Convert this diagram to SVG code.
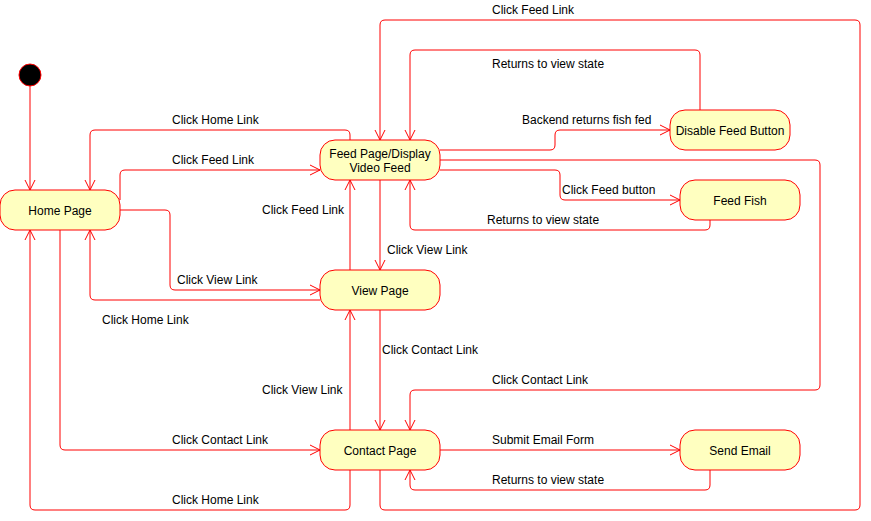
<svg xmlns="http://www.w3.org/2000/svg" width="871" height="521" viewBox="0 0 871 521">
<style>
.node rect{fill:#FFFFC0;stroke:#FF0000;stroke-width:1}
.node text{font-family:"Liberation Sans",Arial,sans-serif;font-size:12px;fill:#000;text-anchor:middle}
.edge{fill:none;stroke:#FF0000;stroke-width:1;marker-end:url(#arr)}
.lbl{font-family:"Liberation Sans",Arial,sans-serif;font-size:12px;fill:#000}
</style>
<defs>
<marker id="arr" markerUnits="userSpaceOnUse" markerWidth="12" markerHeight="12" viewBox="0 0 12 12" refX="10.5" refY="6" orient="auto">
<path d="M0.5,1 L10.5,6 L0.5,11" fill="none" stroke="#FF0000" stroke-width="1"/>
</marker>
</defs>
<rect width="871" height="521" fill="#FFFFFF"/>
<g id="connectors">
<path class="edge" d="M30,86 V190"/>
<path class="edge" d="M350,140 V135 Q350,130 345,130 H95 Q90,130 90,135 V190"/>
<path class="edge" d="M120,200 V175 Q120,170 125,170 H320"/>
<path class="edge" d="M120,210 H165 Q170,210 170,215 V285 Q170,290 175,290 H320"/>
<path class="edge" d="M320,300 H95 Q90,300 90,295 V230"/>
<path class="edge" d="M350,270 V180"/>
<path class="edge" d="M380,180 V270"/>
<path class="edge" d="M60,230 V445 Q60,450 65,450 H320"/>
<path class="edge" d="M350,470 V505 Q350,510 345,510 H35 Q30,510 30,505 V230"/>
<path class="edge" d="M350,430 V310"/>
<path class="edge" d="M380,310 V430"/>
<path class="edge" d="M440,160 H815 Q820,160 820,165 V385 Q820,390 815,390 H415 Q410,390 410,395 V430"/>
<path class="edge" d="M380,470 V505 Q380,510 385,510 H855 Q860,510 860,505 V25 Q860,20 855,20 H385 Q380,20 380,25 V140"/>
<path class="edge" d="M700,110 V55 Q700,50 695,50 H415 Q410,50 410,55 V140"/>
<path class="edge" d="M440,150 H550 Q555,150 555,145 V135 Q555,130 560,130 H670"/>
<path class="edge" d="M440,170 H555 Q560,170 560,175 V195 Q560,200 565,200 H680"/>
<path class="edge" d="M710,220 V225 Q710,230 705,230 H415 Q410,230 410,225 V180"/>
<path class="edge" d="M440,450 H680"/>
<path class="edge" d="M710,470 V485 Q710,490 705,490 H415 Q410,490 410,485 V470"/>
</g>
<g id="labels">
<text class="lbl" x="172" y="124">Click Home Link</text>
<text class="lbl" x="172" y="164">Click Feed Link</text>
<text class="lbl" x="262" y="214">Click Feed Link</text>
<text class="lbl" x="177" y="284">Click View Link</text>
<text class="lbl" x="387" y="254">Click View Link</text>
<text class="lbl" x="102" y="324">Click Home Link</text>
<text class="lbl" x="382" y="354">Click Contact Link</text>
<text class="lbl" x="262" y="394">Click View Link</text>
<text class="lbl" x="492" y="384">Click Contact Link</text>
<text class="lbl" x="172" y="444">Click Contact Link</text>
<text class="lbl" x="492" y="444">Submit Email Form</text>
<text class="lbl" x="492" y="484">Returns to view state</text>
<text class="lbl" x="172" y="504">Click Home Link</text>
<text class="lbl" x="492" y="14">Click Feed Link</text>
<text class="lbl" x="492" y="68">Returns to view state</text>
<text class="lbl" x="522" y="124">Backend returns fish fed</text>
<text class="lbl" x="562" y="194">Click Feed button</text>
<text class="lbl" x="487" y="224">Returns to view state</text>
</g>
<g id="start"><circle cx="30" cy="75" r="11" fill="#000000" stroke="#FF0000" stroke-width="1"/></g>
<g id="home" class="node"><rect x="0" y="190" width="120" height="40" rx="15" ry="15"/><text x="60" y="215">Home Page</text></g>
<g id="feed" class="node"><rect x="320" y="140" width="120" height="40" rx="15" ry="15"/><text x="380" y="158">Feed Page/Display</text><text x="380" y="172">Video Feed</text></g>
<g id="view" class="node"><rect x="320" y="270" width="120" height="40" rx="15" ry="15"/><text x="380" y="295">View Page</text></g>
<g id="contact" class="node"><rect x="320" y="430" width="120" height="40" rx="15" ry="15"/><text x="380" y="455">Contact Page</text></g>
<g id="disable" class="node"><rect x="670" y="110" width="120" height="40" rx="15" ry="15"/><text x="730" y="135">Disable Feed Button</text></g>
<g id="feedfish" class="node"><rect x="680" y="180" width="120" height="40" rx="15" ry="15"/><text x="740" y="205">Feed Fish</text></g>
<g id="sendemail" class="node"><rect x="680" y="430" width="120" height="40" rx="15" ry="15"/><text x="740" y="455">Send Email</text></g>
</svg>
